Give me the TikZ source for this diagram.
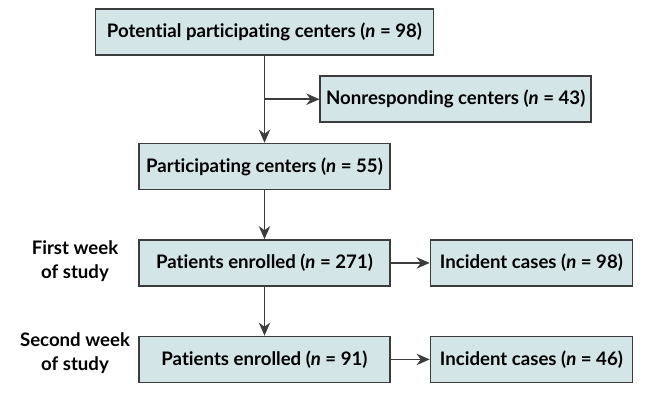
\documentclass[tikz,border=0pt]{standalone}
\usepackage{fontspec}
\setmainfont{Lato}[Ligatures=NoCommon]
\usetikzlibrary{arrows.meta, positioning, calc}

\definecolor{boxfill}{RGB}{211,229,231}
\definecolor{boxline}{RGB}{60,60,60}

\begin{document}
\begin{tikzpicture}[x=0.02cm,y=-0.02cm,>={Stealth[length=7.5pt,width=6.5pt]},
  node distance=0.98cm and 0.78cm,line width=0.85pt,draw=boxline,
  flow box/.style={rectangle,draw=boxline,fill=boxfill,line width=0.85pt,
    minimum height=0.92cm,inner xsep=3pt,font=\bfseries\fontsize{10.6}{12}\selectfont},
  week label/.style={align=center,font=\bfseries\fontsize{10.6}{13.5}\selectfont}]
  \useasboundingbox (0,0) rectangle (645,405);
  \node[flow box,minimum width=6.76cm] (potential) at (264.5,32) {Potential participating centers (\textit{n} = 98)};
  \node[flow box,minimum width=5.02cm] (participating) [below=1.74cm of potential] {Participating centers (\textit{n} = 55)};
  \node[flow box,minimum width=5.02cm] (enrolled1) [below=of participating] {Patients enrolled (\textit{n} = 271)};
  \node[flow box,minimum width=5.02cm] (enrolled2) [below=of enrolled1] {Patients enrolled (\textit{n} = 91)};
  \node[flow box,minimum width=4.04cm] (incident1) [right=of enrolled1] {Incident cases (\textit{n} = 98)};
  \node[flow box,minimum width=4.04cm] (incident2) [right=of enrolled2] {Incident cases (\textit{n} = 46)};
  \coordinate (split) at ($(potential.south)!0.5!(participating.north)$);
  \node[flow box,minimum width=5.42cm] (nonresponding) [right=1.1cm of split] {Nonresponding centers (\textit{n} = 43)};
  \node[week label] (week1) at (75,261) {First week\\of study};
  \node[week label] (week2) at (75,353) {Second week\\of study};
  \path[draw=boxline,line width=0.85pt]
    (potential) edge[->] (participating)
    (split) edge[->] (nonresponding)
    (participating) edge[->] (enrolled1)
    (enrolled1) edge[->] (enrolled2)
    (enrolled1) edge[->] (incident1)
    (enrolled2) edge[->] (incident2);
\end{tikzpicture}
\end{document}
